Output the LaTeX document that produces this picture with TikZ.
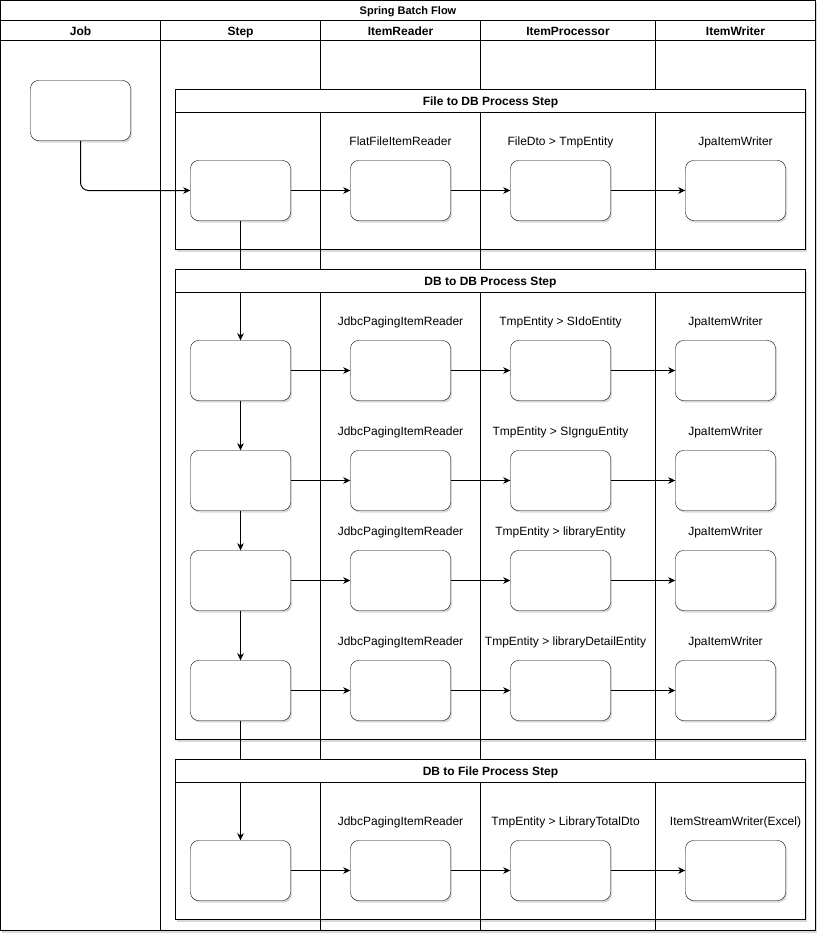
\documentclass[tikz,border=0pt]{standalone}
\usepackage{fontspec}
\setmainfont{Liberation Sans}
\usetikzlibrary{arrows.meta,shadows}
\pgfdeclarelayer{bg}
\pgfdeclarelayer{edges}
\pgfsetlayers{bg,edges,main}
\begin{document}
\begin{tikzpicture}[x=1pt,y=-1pt,line width=1pt,
  softshadow/.style={drop shadow={shadow xshift=1.5pt,shadow yshift=-2pt,opacity=0.15,fill=black}},
  rbox/.style={draw,fill=white,rounded corners=8pt,minimum width=100pt,minimum height=60pt,inner sep=0pt,softshadow},
  lbl/.style={font=\fontsize{12}{14}\selectfont,inner sep=0pt,text height=8.6pt,text depth=0pt},
  hdr/.style={font=\fontsize{12}{14}\selectfont\bfseries,inner sep=0pt,text height=8.6pt,text depth=0pt},
  ttl/.style={font=\fontsize{11}{13}\selectfont\bfseries,inner sep=0pt,text height=7.9pt,text depth=0pt},
  flow/.style={-{Stealth[length=7pt,width=6.5pt,inset=2pt]},line width=1pt},
  grpbody/.style={draw,fill=white,softshadow},
  grphead/.style={draw,fill=white},
]
\useasboundingbox (0,0) rectangle (827,942);
\begin{scope}[shift={(-0.5,-0.5)}]
% ---------- background: pool frame and group bodies ----------
\begin{pgfonlayer}{bg}
  \draw[fill=white,softshadow] (1,1) rectangle (816,931);
  \draw (1,21) -- (816,21);
  \draw (1,41) -- (816,41);
  \draw[grpbody] (176,90) rectangle (806,250);
  \draw[grpbody] (176,270) rectangle (806,740);
  \draw[grpbody] (176,760) rectangle (806,920);
\end{pgfonlayer}

% ---------- titles ----------
\node[ttl] (title) at (408.5,11.5) {Spring Batch Flow};
\node[hdr] (hjob) at (81,31.5) {Job};
\node[hdr] (hstep) at (241,31.5) {Step};
\node[hdr] (hreader) at (401,31.5) {ItemReader};
\node[hdr] (hproc) at (568.5,31.5) {ItemProcessor};
\node[hdr] (hwriter) at (736,31.5) {ItemWriter};

% ---------- group headers ----------
\draw[grphead] (176,90) rectangle (806,113);
\node[hdr] (g1) at (491,102) {File to DB Process Step};
\draw[grphead] (176,270) rectangle (806,293);
\node[hdr] (g2) at (491,282) {DB to DB Process Step};
\draw[grphead] (176,760) rectangle (806,783);
\node[hdr] (g3) at (491,772) {DB to File Process Step};

% ---------- job ----------
\node[rbox] (job) at (81,111) {};

% ---------- row 1 ----------
\node[rbox] (s1) at (241,191) {};
\node[rbox] (r1) at (401,191) {};
\node[rbox] (p1) at (561,191) {};
\node[rbox] (w1) at (736,191) {};
\node[lbl] (lr1) at (401,142) {FlatFileItemReader};
\node[lbl] (lp1) at (561,142) {FileDto > TmpEntity};
\node[lbl] (lw1) at (736,142) {JpaItemWriter};

% ---------- row 2 ----------
\node[rbox] (s2) at (241,371) {};
\node[rbox] (r2) at (401,371) {};
\node[rbox] (p2) at (561,371) {};
\node[rbox] (w2) at (726,371) {};
\node[lbl] (lr2) at (401,322) {JdbcPagingItemReader};
\node[lbl] (lp2) at (561,322) {TmpEntity > SIdoEntity};
\node[lbl] (lw2) at (726,322) {JpaItemWriter};

% ---------- row 3 ----------
\node[rbox] (s3) at (241,481) {};
\node[rbox] (r3) at (401,481) {};
\node[rbox] (p3) at (561,481) {};
\node[rbox] (w3) at (726,481) {};
\node[lbl] (lr3) at (401,432) {JdbcPagingItemReader};
\node[lbl] (lp3) at (561,432) {TmpEntity > SIgnguEntity};
\node[lbl] (lw3) at (726,432) {JpaItemWriter};

% ---------- row 4 ----------
\node[rbox] (s4) at (241,581) {};
\node[rbox] (r4) at (401,581) {};
\node[rbox] (p4) at (561,581) {};
\node[rbox] (w4) at (726,581) {};
\node[lbl] (lr4) at (401,532) {JdbcPagingItemReader};
\node[lbl] (lp4) at (561,532) {TmpEntity > libraryEntity};
\node[lbl] (lw4) at (726,532) {JpaItemWriter};

% ---------- row 5 ----------
\node[rbox] (s5) at (241,691) {};
\node[rbox] (r5) at (401,691) {};
\node[rbox] (p5) at (561,691) {};
\node[rbox] (w5) at (726,691) {};
\node[lbl] (lr5) at (401,642) {JdbcPagingItemReader};
\node[lbl] (lp5) at (566,642) {TmpEntity > libraryDetailEntity};
\node[lbl] (lw5) at (726,642) {JpaItemWriter};

% ---------- row 6 ----------
\node[rbox] (s6) at (241,871) {};
\node[rbox] (r6) at (401,871) {};
\node[rbox] (p6) at (561,871) {};
\node[rbox] (w6) at (736,871) {};
\node[lbl] (lr6) at (401,822) {JdbcPagingItemReader};
\node[lbl] (lp6) at (566,822) {TmpEntity > LibraryTotalDto};
\node[lbl] (lw6) at (736,822) {ItemStreamWriter(Excel)};

% ---------- lanes and connectors ----------
\begin{pgfonlayer}{edges}
  \draw (161,21) -- (161,931);
  \draw (321,21) -- (321,931);
  \draw (481,21) -- (481,931);
  \draw (656,21) -- (656,931);

  \draw[flow,rounded corners=8pt] (job.south) |- (s1.west);
  \foreach \a/\b in {s1/s2,s2/s3,s3/s4,s4/s5,s5/s6}
    \draw[flow] (\a.south) -- (\b.north);
  \foreach \i in {1,...,6}{
    \draw[flow] (s\i.east) -- (r\i.west);
    \draw[flow] (r\i.east) -- (p\i.west);
    \draw[flow] (p\i.east) -- (w\i.west);
  }
\end{pgfonlayer}
\end{scope}
\end{tikzpicture}
\end{document}
